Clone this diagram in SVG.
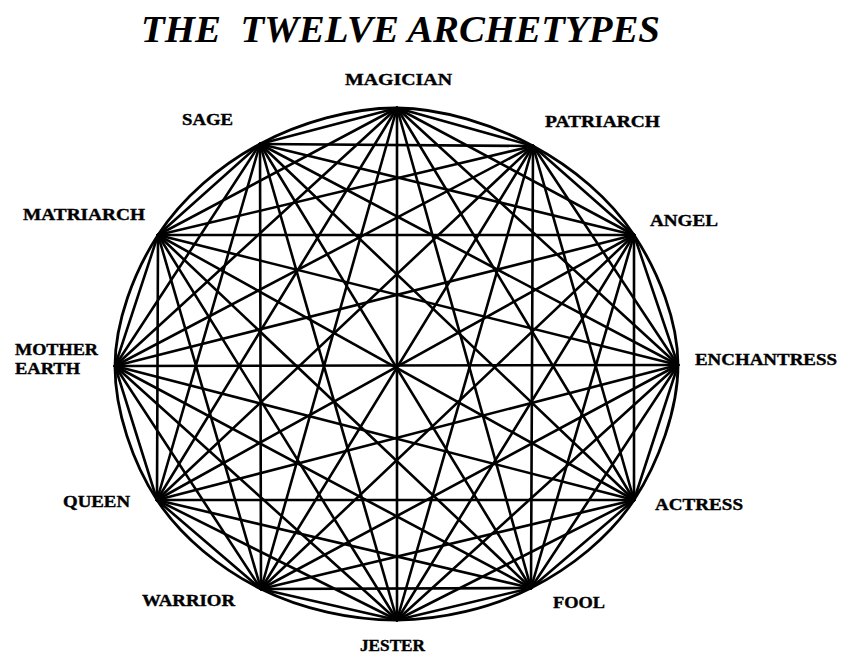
<svg xmlns="http://www.w3.org/2000/svg" width="841" height="655" viewBox="0 0 841 655">
<style>
.e line{stroke:#000;stroke-width:2.6;stroke-linecap:round}
.rim{fill:none;stroke:#000;stroke-width:2.8}
.lbl{font-family:"Liberation Serif","Times New Roman",serif;font-weight:bold;font-size:17px;fill:#000;stroke:#000;stroke-width:0.4}
.title{font-family:"Liberation Serif","Times New Roman",serif;font-weight:bold;font-style:italic;font-size:37px;fill:#000;white-space:pre}
</style>
<rect width="841" height="655" fill="#fff"/>
<text class="title" xml:space="preserve" x="141" y="42" textLength="519" lengthAdjust="spacingAndGlyphs">THE  TWELVE ARCHETYPES</text>
<path class="rim" d="M397,108 C442.5,108.3 493.5,124.8 533,146 C572.5,167.2 609.8,198.5 634,235 C658.2,271.5 678,320.8 678,365 C678,409.2 658.5,462.8 634,500 C609.5,537.2 570.5,568 531,588 C491.5,608 442,619.8 397,620 C352,620.2 301,609 261,589 C221,569 181.3,537.2 157,500 C132.7,462.8 114.8,410.2 115,366 C115.2,321.8 133.8,272 158,235 C182.2,198 220.2,165.2 260,144 C299.8,122.8 351.5,107.7 397,108 Z"/>
<g id="connectors" class="e">
<line x1="397" y1="108" x2="533" y2="146"/>
<line x1="397" y1="108" x2="634" y2="235"/>
<line x1="397" y1="108" x2="678" y2="365"/>
<line x1="397" y1="108" x2="634" y2="500"/>
<line x1="397" y1="108" x2="531" y2="588"/>
<line x1="397" y1="108" x2="397" y2="620"/>
<line x1="397" y1="108" x2="261" y2="589"/>
<line x1="397" y1="108" x2="157" y2="500"/>
<line x1="397" y1="108" x2="115" y2="366"/>
<line x1="397" y1="108" x2="158" y2="235"/>
<line x1="397" y1="108" x2="260" y2="144"/>
<line x1="533" y1="146" x2="634" y2="235"/>
<line x1="533" y1="146" x2="678" y2="365"/>
<line x1="533" y1="146" x2="634" y2="500"/>
<line x1="533" y1="146" x2="531" y2="588"/>
<line x1="533" y1="146" x2="397" y2="620"/>
<line x1="533" y1="146" x2="261" y2="589"/>
<line x1="533" y1="146" x2="157" y2="500"/>
<line x1="533" y1="146" x2="115" y2="366"/>
<line x1="533" y1="146" x2="158" y2="235"/>
<line x1="533" y1="146" x2="260" y2="144"/>
<line x1="634" y1="235" x2="678" y2="365"/>
<line x1="634" y1="235" x2="634" y2="500"/>
<line x1="634" y1="235" x2="531" y2="588"/>
<line x1="634" y1="235" x2="397" y2="620"/>
<line x1="634" y1="235" x2="261" y2="589"/>
<line x1="634" y1="235" x2="157" y2="500"/>
<line x1="634" y1="235" x2="115" y2="366"/>
<line x1="634" y1="235" x2="158" y2="235"/>
<line x1="634" y1="235" x2="260" y2="144"/>
<line x1="678" y1="365" x2="634" y2="500"/>
<line x1="678" y1="365" x2="531" y2="588"/>
<line x1="678" y1="365" x2="397" y2="620"/>
<line x1="678" y1="365" x2="261" y2="589"/>
<line x1="678" y1="365" x2="157" y2="500"/>
<line x1="678" y1="365" x2="115" y2="366"/>
<line x1="678" y1="365" x2="158" y2="235"/>
<line x1="678" y1="365" x2="260" y2="144"/>
<line x1="634" y1="500" x2="531" y2="588"/>
<line x1="634" y1="500" x2="397" y2="620"/>
<line x1="634" y1="500" x2="261" y2="589"/>
<line x1="634" y1="500" x2="157" y2="500"/>
<line x1="634" y1="500" x2="115" y2="366"/>
<line x1="634" y1="500" x2="158" y2="235"/>
<line x1="634" y1="500" x2="260" y2="144"/>
<line x1="531" y1="588" x2="397" y2="620"/>
<line x1="531" y1="588" x2="261" y2="589"/>
<line x1="531" y1="588" x2="157" y2="500"/>
<line x1="531" y1="588" x2="115" y2="366"/>
<line x1="531" y1="588" x2="158" y2="235"/>
<line x1="531" y1="588" x2="260" y2="144"/>
<line x1="397" y1="620" x2="261" y2="589"/>
<line x1="397" y1="620" x2="157" y2="500"/>
<line x1="397" y1="620" x2="115" y2="366"/>
<line x1="397" y1="620" x2="158" y2="235"/>
<line x1="397" y1="620" x2="260" y2="144"/>
<line x1="261" y1="589" x2="157" y2="500"/>
<line x1="261" y1="589" x2="115" y2="366"/>
<line x1="261" y1="589" x2="158" y2="235"/>
<line x1="261" y1="589" x2="260" y2="144"/>
<line x1="157" y1="500" x2="115" y2="366"/>
<line x1="157" y1="500" x2="158" y2="235"/>
<line x1="157" y1="500" x2="260" y2="144"/>
<line x1="115" y1="366" x2="158" y2="235"/>
<line x1="115" y1="366" x2="260" y2="144"/>
<line x1="158" y1="235" x2="260" y2="144"/>
</g>
<g id="magician"><text class="lbl" x="345" y="85" textLength="107" lengthAdjust="spacingAndGlyphs">MAGICIAN</text></g>
<g id="patriarch"><text class="lbl" x="545" y="127" textLength="115" lengthAdjust="spacingAndGlyphs">PATRIARCH</text></g>
<g id="angel"><text class="lbl" x="650" y="226" textLength="68" lengthAdjust="spacingAndGlyphs">ANGEL</text></g>
<g id="enchantress"><text class="lbl" x="695" y="365" textLength="142" lengthAdjust="spacingAndGlyphs">ENCHANTRESS</text></g>
<g id="actress"><text class="lbl" x="655" y="510" textLength="88" lengthAdjust="spacingAndGlyphs">ACTRESS</text></g>
<g id="fool"><text class="lbl" x="553" y="608" textLength="52" lengthAdjust="spacingAndGlyphs">FOOL</text></g>
<g id="jester"><text class="lbl" x="360" y="651" textLength="65" lengthAdjust="spacingAndGlyphs">JESTER</text></g>
<g id="warrior"><text class="lbl" x="142" y="606" textLength="93" lengthAdjust="spacingAndGlyphs">WARRIOR</text></g>
<g id="queen"><text class="lbl" x="63" y="507" textLength="67" lengthAdjust="spacingAndGlyphs">QUEEN</text></g>
<g id="mother-earth"><text class="lbl" x="15" y="355" textLength="83" lengthAdjust="spacingAndGlyphs">MOTHER</text><text class="lbl" x="15" y="374" textLength="65" lengthAdjust="spacingAndGlyphs">EARTH</text></g>
<g id="matriarch"><text class="lbl" x="23" y="220" textLength="122" lengthAdjust="spacingAndGlyphs">MATRIARCH</text></g>
<g id="sage"><text class="lbl" x="182" y="125" textLength="51" lengthAdjust="spacingAndGlyphs">SAGE</text></g>
</svg>
